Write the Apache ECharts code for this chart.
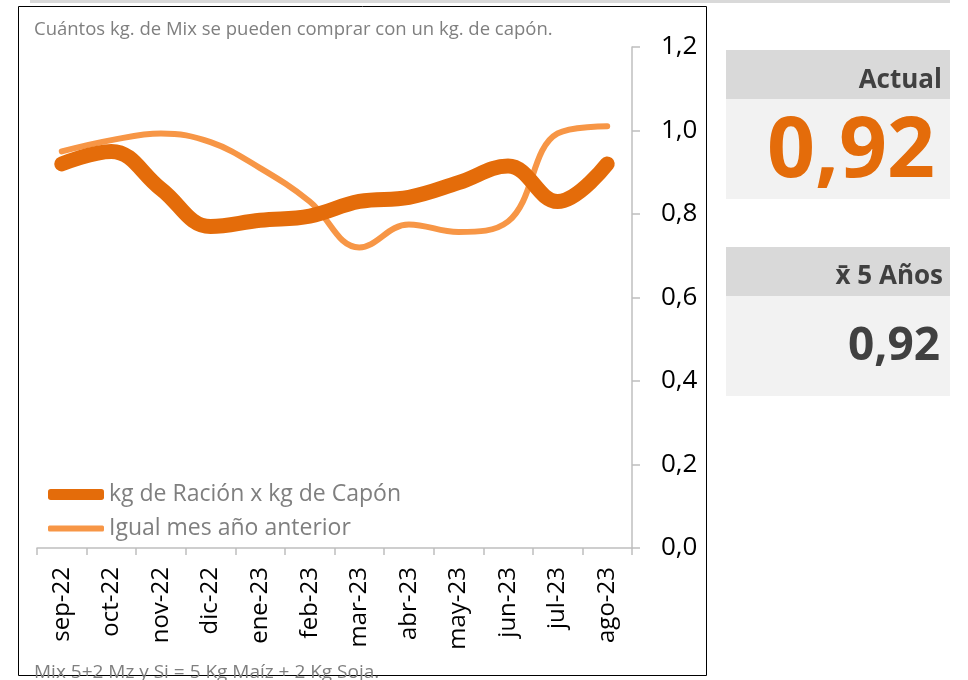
<!DOCTYPE html>
<html>
<head>
<meta charset="utf-8">
<script src="https://cdn.jsdelivr.net/npm/echarts@6/dist/echarts.min.js"></script>
<style>
  html, body { margin: 0; padding: 0; background: #fff; }
  #chart { width: 968px; height: 680px; }
</style>
</head>
<body>
<div id="chart"></div>
<script>
var meses = ['sep-22', 'oct-22', 'nov-22', 'dic-22', 'ene-23', 'feb-23',
	'mar-23', 'abr-23', 'may-23', 'jun-23', 'jul-23', 'ago-23'];
var racionCapon = [0.92, 0.95, 0.86, 0.77, 0.785, 0.795, 0.83, 0.84, 0.875, 0.915, 0.83, 0.92];
var anioAnterior = [0.95, 0.977, 0.993, 0.972, 0.91, 0.83, 0.72, 0.775, 0.757, 0.782, 0.993, 1.01];
var valorActual = '0,92';
var promedio5 = '0,92';

var fuente = '"Open Sans", "Noto Sans", sans-serif';
var gris = '#7f7f7f';
var naranja = '#e46c0a';
var naranjaClaro = '#f79646';

var chart = echarts.init(document.getElementById('chart'));
var option = {
	animation: false,
	textStyle: { fontFamily: fuente },
	grid: { left: 37, right: 336, top: 47, bottom: 132 },
	legend: [{
		left: 43, top: 478,
		icon: 'roundRect', itemWidth: 56, itemHeight: 11,
		data: ['kg de Ración x kg de Capón'],
		textStyle: { color: gris, fontSize: 23, fontFamily: fuente }
	}, {
		left: 43, top: 512,
		icon: 'roundRect', itemWidth: 56, itemHeight: 6,
		data: ['Igual mes año anterior'],
		textStyle: { color: gris, fontSize: 23, fontFamily: fuente }
	}],
	xAxis: {
		type: 'category',
		data: meses,
		boundaryGap: true,
		axisLine: { lineStyle: { color: '#bfbfbf', width: 1.5 } },
		axisTick: { show: true, length: 7, lineStyle: { color: '#bfbfbf', width: 1.5 } },
		axisLabel: { rotate: 90, margin: 19, color: '#000', fontSize: 24, fontFamily: fuente }
	},
	yAxis: {
		type: 'value',
		position: 'right',
		min: 0, max: 1.2, interval: 0.2,
		splitLine: { show: false },
		axisLine: { show: true, lineStyle: { color: '#bfbfbf', width: 1.5 } },
		axisTick: { show: true, length: 8, lineStyle: { color: '#bfbfbf', width: 1.5 } },
		axisLabel: {
			margin: 29, color: '#000', fontSize: 26, fontFamily: fuente,
			formatter: function (v) { return v.toFixed(1).replace('.', ','); }
		}
	},
	series: [{
		name: 'Igual mes año anterior',
		type: 'line',
		data: anioAnterior,
		smooth: 0.4,
		showSymbol: false,
		color: naranjaClaro,
		lineStyle: { width: 6, color: naranjaClaro, cap: 'round' },
		z: 2
	}, {
		name: 'kg de Ración x kg de Capón',
		type: 'line',
		data: racionCapon,
		smooth: 0.4,
		showSymbol: false,
		color: naranja,
		lineStyle: { width: 15, color: naranja, cap: 'round' },
		z: 3
	}],
	graphic: [
		{ type: 'rect', shape: { x: 30, y: 0, width: 920, height: 3 }, style: { fill: '#d9d9d9' } },
		{ type: 'rect', shape: { x: 18.5, y: 6.5, width: 688, height: 669 }, style: { fill: 'none', stroke: '#000', lineWidth: 1 } },
		{ type: 'text', left: 34, top: 20, style: { text: 'Cuántos kg. de Mix se pueden comprar con un kg. de capón.', fill: gris, font: '18.5px ' + fuente } },
		{ type: 'text', left: 34, top: 663, style: { text: 'Mix 5+2 Mz y Si = 5 Kg Maíz + 2 Kg Soja.', fill: gris, font: '19px ' + fuente } },
		// panel Actual
		{ type: 'rect', shape: { x: 726, y: 50, width: 224, height: 49 }, style: { fill: '#d9d9d9' } },
		{ type: 'rect', shape: { x: 726, y: 99, width: 224, height: 100 }, style: { fill: '#f2f2f2' } },
		{ type: 'text', x: 942, y: 81, style: { text: 'Actual', fill: '#404040', font: 'bold 26px ' + fuente, align: 'right', verticalAlign: 'middle' } },
		{ type: 'text', x: 935, y: 153, style: { text: valorActual, fill: naranja, font: 'bold 84px ' + fuente, align: 'right', verticalAlign: 'middle' } },
		// panel promedio 5 años
		{ type: 'rect', shape: { x: 726, y: 247, width: 224, height: 49 }, style: { fill: '#d9d9d9' } },
		{ type: 'rect', shape: { x: 726, y: 296, width: 224, height: 100 }, style: { fill: '#f2f2f2' } },
		{ type: 'text', x: 943, y: 277, style: { text: 'x̄ 5 Años', fill: '#404040', font: 'bold 26px ' + fuente, align: 'right', verticalAlign: 'middle' } },
		{ type: 'text', x: 940, y: 347, style: { text: promedio5, fill: '#404040', font: 'bold 46px ' + fuente, align: 'right', verticalAlign: 'middle' } }
	]
};
chart.setOption(option);
window.addEventListener('resize', function () {
	chart.resize();
});
</script>
</body>
</html>
